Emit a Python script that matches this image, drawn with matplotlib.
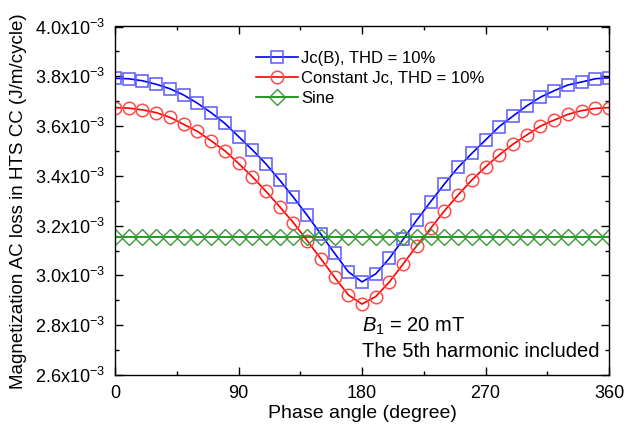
#!/usr/bin/env python3
"""Magnetization AC loss vs phase angle of the 5th harmonic."""

import matplotlib
matplotlib.use("Agg")
import matplotlib.pyplot as plt
import numpy as np
from matplotlib.ticker import FuncFormatter, MultipleLocator

# -- Data (loss in 1e-3 J/m/cycle) --------------------------------------------

phase = list(range(0, 361, 10))

loss_jcb = [
    3.792, 3.790, 3.782, 3.768, 3.750, 3.725, 3.692, 3.654, 3.611, 3.558,
    3.505, 3.448, 3.383, 3.314, 3.242, 3.166, 3.089, 3.015, 2.974, 3.006,
    3.069, 3.145, 3.223, 3.296, 3.367, 3.434, 3.490, 3.544, 3.598, 3.640,
    3.681, 3.716, 3.742, 3.765, 3.777, 3.790, 3.794,
]

loss_const_jc = [
    3.674, 3.672, 3.665, 3.654, 3.635, 3.607, 3.579, 3.541, 3.501, 3.450,
    3.397, 3.338, 3.276, 3.212, 3.140, 3.067, 2.993, 2.922, 2.885, 2.915,
    2.974, 3.046, 3.120, 3.189, 3.259, 3.323, 3.383, 3.436, 3.484, 3.527,
    3.564, 3.600, 3.624, 3.647, 3.662, 3.671, 3.674,
]

loss_sine = [3.155] * len(phase)

labels = ["Jc(B), THD = 10%", "Constant Jc, THD = 10%", "Sine"]

# -- Style ---------------------------------------------------------------------

plt.rcParams["font.family"] = ["Liberation Sans", "DejaVu Sans"]
plt.rcParams["mathtext.fontset"] = "custom"
plt.rcParams["mathtext.rm"] = "Liberation Sans"
plt.rcParams["mathtext.it"] = "Liberation Sans:italic"
plt.rcParams["mathtext.default"] = "regular"

fig = plt.figure(figsize=(6.26, 4.36), dpi=100)
ax = fig.add_axes([115 / 626, 1 - 375 / 436, 494 / 626, 348.5 / 436])

x = np.array(phase)
ax.plot(x, np.array(loss_jcb) * 1e-3, color="#0000ff", lw=1.2,
        marker="s", ms=8.5, mfc="none", mec="#5a5aff", mew=1.1, label=labels[0])
ax.plot(x, np.array(loss_const_jc) * 1e-3, color="#ff0000", lw=1.2,
        marker="o", ms=9, mfc="none", mec="#ff4a4a", mew=1.1, label=labels[1])
ax.plot(x, np.array(loss_sine) * 1e-3, color="#008800", lw=1.2,
        marker="D", ms=8, mfc="none", mec="#3a9a3a", mew=1.0, label=labels[2])

ax.set_xlim(0, 360)
ax.set_ylim(2.6e-3, 4.0e-3)
ax.xaxis.set_major_locator(MultipleLocator(90))
ax.xaxis.set_minor_locator(MultipleLocator(45))
ax.yaxis.set_major_locator(MultipleLocator(0.2e-3))
ax.yaxis.set_minor_locator(MultipleLocator(0.1e-3))
ax.yaxis.set_major_formatter(
    FuncFormatter(lambda v, _: f"{v * 1e3:.1f}x10$^{{-3}}$"))

ax.tick_params(which="both", direction="in", top=True, right=True,
               labelsize=13, width=1.0)
ax.tick_params(which="major", length=6, pad=7)
ax.tick_params(which="minor", length=3)
for s in ax.spines.values():
    s.set_linewidth(1.0)

ax.set_xlabel("Phase angle (degree)", fontsize=14, labelpad=2)
ax.set_ylabel("Magnetization AC loss in HTS CC (J/m/cycle)", fontsize=13.5,
              labelpad=6)

ax.legend(loc="upper left", bbox_to_anchor=(0.272, 0.95), frameon=False,
          fontsize=12, handlelength=2.5, handletextpad=0.2,
          labelspacing=0.32, borderaxespad=0)

ax.text(0.5, 0.141, "$\\mathit{B}_1$ = 20 mT", transform=ax.transAxes,
        fontsize=14.5, ha="left", va="center")
ax.text(0.5, 0.066, "The 5th harmonic included", transform=ax.transAxes,
        fontsize=14.5, ha="left", va="center")

fig.savefig("out.png", dpi=100)
plt.close(fig)
